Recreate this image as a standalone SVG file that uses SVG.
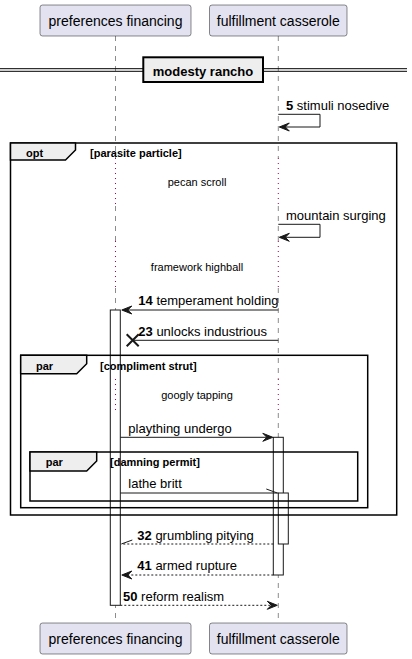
<svg xmlns="http://www.w3.org/2000/svg" width="412" height="659" viewBox="0 0 412 659">
<style>
text{font-family:"Liberation Sans",Arial,sans-serif;fill:#000}
.pt{font-size:14px}
.msg{font-size:13px}
.b{font-weight:bold}
.dl{font-size:11px}
.gh{font-size:11px;font-weight:bold}
.part{fill:#E2E2F0;stroke:#181818;stroke-width:0.5}
.life{stroke:#181818;stroke-width:0.5;stroke-dasharray:5,5;fill:none}
.dot{stroke:#B0004A;stroke-width:1;stroke-dasharray:1,4;fill:none}
.act{fill:#FFFFFF;stroke:#181818;stroke-width:1}
.ln{stroke:#181818;stroke-width:1;fill:none}
.dash{stroke:#181818;stroke-width:1;stroke-dasharray:2,2;fill:none}
.ah{fill:#181818;stroke:#181818;stroke-width:1}
.frame{fill:none;stroke:#000;stroke-width:1.5}
.tab{fill:#EEEEEE;stroke:#000;stroke-width:1.5}
</style>
<g id="lifelines">
<path class="life" d="M115.5,36V158M115.5,206V241M115.5,288V379M115.5,413V623"/>
<path class="life" d="M278.3,36V158M278.3,206V241M278.3,288V379M278.3,413V623"/>
</g>
<g id="activations">
<rect class="act" x="110.3" y="310" width="10" height="295.3"/>
<rect class="act" x="273.3" y="437.3" width="10" height="137.7"/>
<rect class="act" x="278.3" y="493" width="10" height="51"/>
</g>
<g id="delays">
<path class="dot" d="M115.5,158V206M278.3,158V206M115.5,241V288M278.3,241V288M115.5,379V413M278.3,379V413"/>
<text class="dl" x="197" y="185.5" text-anchor="middle">pecan scroll</text>
<text class="dl" x="197" y="270.5" text-anchor="middle">framework highball</text>
<text class="dl" x="197" y="398.5" text-anchor="middle">googly tapping</text>
</g>
<g id="p1">
<rect class="part" x="40" y="5" width="151" height="31" rx="2.5"/>
<text class="pt" x="115.5" y="25.5" text-anchor="middle">preferences financing</text>
<rect class="part" x="40" y="623" width="151" height="31" rx="2.5"/>
<text class="pt" x="115.5" y="643.5" text-anchor="middle">preferences financing</text>
</g>
<g id="p2">
<rect class="part" x="209.5" y="5" width="137.5" height="31" rx="2.5"/>
<text class="pt" x="278.3" y="25.5" text-anchor="middle">fulfillment casserole</text>
<rect class="part" x="209.5" y="623" width="137.5" height="31" rx="2.5"/>
<text class="pt" x="278.3" y="643.5" text-anchor="middle">fulfillment casserole</text>
</g>
<g id="divider">
<line x1="0" y1="68.7" x2="407" y2="68.7" stroke="#000" stroke-width="1"/>
<line x1="0" y1="71.3" x2="407" y2="71.3" stroke="#000" stroke-width="1"/>
<rect x="143.3" y="57.3" width="119.7" height="24.7" fill="#EEEEEE" stroke="#000" stroke-width="2"/>
<text class="msg b" x="203" y="75.5" text-anchor="middle">modesty rancho</text>
</g>
<g id="opt">
<rect class="frame" x="10.5" y="143" width="386.2" height="372"/>
<polygon class="tab" points="10.5,143 75.5,143 75.5,150 65.5,160 10.5,160"/>
<text class="gh" x="26" y="156.5">opt</text>
<text class="gh" x="90" y="156.5">[parasite particle]</text>
</g>
<g id="par1">
<rect class="frame" x="20.7" y="355.3" width="347" height="152.4"/>
<polygon class="tab" points="20.7,355.3 86.7,355.3 86.7,363.7 76.7,373.7 20.7,373.7"/>
<text class="gh" x="36" y="369.5">par</text>
<text class="gh" x="100" y="369.5">[compliment strut]</text>
</g>
<g id="par2">
<rect class="frame" x="30" y="452" width="327.7" height="49"/>
<polygon class="tab" points="30,452 96.7,452 96.7,461 86.7,471 30,471"/>
<text class="gh" x="45.7" y="466">par</text>
<text class="gh" x="110" y="466">[damning permit]</text>
</g>
<g id="connectors">
<polyline class="ln" points="278.3,114.3 320,114.3 320,127 280,127"/>
<polygon class="ah" points="279.3,127 289.3,123 285.3,127 289.3,131"/>
<text class="msg" x="286" y="110"><tspan class="b">5</tspan> stimuli nosedive</text>
<polyline class="ln" points="278.3,224.3 320,224.3 320,237.3 280,237.3"/>
<polygon class="ah" points="279.3,237.3 289.3,233.3 285.3,237.3 289.3,241.3"/>
<text class="msg" x="286" y="220">mountain surging</text>
<line class="ln" x1="278.3" y1="310" x2="123" y2="310"/>
<polygon class="ah" points="121.8,310 131.8,306 127.8,310 131.8,314"/>
<text class="msg" x="138.3" y="305.3"><tspan class="b">14</tspan> temperament holding</text>
<line class="ln" x1="278.3" y1="340.3" x2="132.7" y2="340.3"/>
<path d="M126.7,334.3L138.7,346.3M126.7,346.3L138.7,334.3" stroke="#181818" stroke-width="2" fill="none"/>
<text class="msg" x="138.3" y="336"><tspan class="b">23</tspan> unlocks industrious</text>
<line class="ln" x1="120.3" y1="437.3" x2="271" y2="437.3"/>
<polygon class="ah" points="272.8,437.3 262.8,433.3 266.8,437.3 262.8,441.3"/>
<text class="msg" x="128.3" y="432.8">plaything undergo</text>
<line class="ln" x1="120.3" y1="493" x2="278.3" y2="493"/>
<line class="ln" x1="277.3" y1="493" x2="266.3" y2="489"/>
<text class="msg" x="128.3" y="488">lathe britt</text>
<line class="dash" x1="273.3" y1="544" x2="121.3" y2="544"/>
<line class="ln" x1="121.3" y1="544" x2="132.3" y2="540"/>
<text class="msg" x="137.3" y="540"><tspan class="b">32</tspan> grumbling pitying</text>
<line class="dash" x1="273.3" y1="575" x2="123" y2="575"/>
<polygon class="ah" points="121.8,575 131.8,571 127.8,575 131.8,579"/>
<text class="msg" x="137.3" y="570"><tspan class="b">41</tspan> armed rupture</text>
<line class="dash" x1="120.3" y1="605.3" x2="276" y2="605.3"/>
<polygon class="ah" points="277.3,605.3 267.3,601.3 271.3,605.3 267.3,609.3"/>
<text class="msg" x="123" y="600.5"><tspan class="b">50</tspan> reform realism</text>
</g>
</svg>
